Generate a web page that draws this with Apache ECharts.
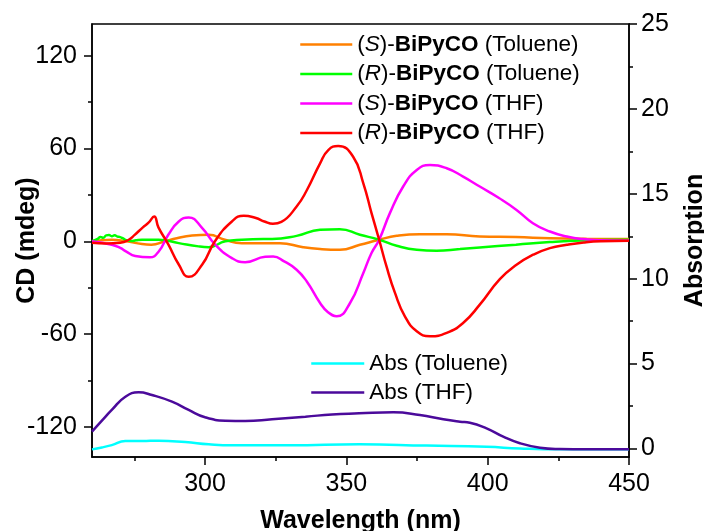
<!DOCTYPE html>
<html>
<head>
<meta charset="utf-8">
<script src="https://cdn.jsdelivr.net/npm/echarts@6/dist/echarts.min.js"></script>
<style>
  html, body { margin: 0; padding: 0; background: #fff; }
  #chart { width: 704px; height: 531px; }
</style>
</head>
<body>
<div id="chart"></div>
<script>
// CD spectra (mdeg) of both enantiomers in toluene and THF
const waveSTol = [260,267,272,277.7,281,285.8,290,295.4,301.3,307,313,321,326.5,334.7,340.7,347.7,354.8,361.6,367.8,376,385.5,397.2,410,422,435,450];
const cdSTol   = [0,1,0,-1.8,-2.2,0,2,3.7,4.2,1,-1.2,-1.2,-1.2,-3.8,-5,-5.5,-2.3,1,3.5,4.6,4.6,3.1,2.7,2,1.6,1.4];

const waveRTol = [260,262,263,264,265,266,267,268,269,270,271,272.5,274,275.5,277.7,283.6,290.7,297.7,301.3,307.2,313,320.6,323.7,332.4,340.7,347.7,354.8,361.6,367.8,374.9,381.9,390.2,397.2,410,422,433,450];
const cdRTol   = [0,1.5,2.8,2.2,3.8,4.0,3.3,3.9,3.0,2.7,1.8,0.5,0.2,0.6,1,1,-1.2,-3.3,-3.8,0,1,1.4,1.4,3.5,7.4,7.8,4.2,1,-2.9,-5.5,-6.1,-5,-4,-2.2,-0.5,0.5,1];

const waveSTHF = [260,267,270,272,275.3,280.5,283.6,287,290.7,294.2,299,303.6,309.5,314.2,321.3,324.1,328,332.4,336,340.7,343.5,346.6,351.3,356,358.9,361.6,365.4,370.1,374.9,379.6,385.5,391.3,397.2,404,410.2,416,422,428,433.7,440,450];
const cdSTHF   = [0,-2.2,-4.3,-6.5,-9.5,-10.4,-6.6,4.2,12.8,15.4,8.5,-2.2,-10.9,-13.5,-10,-9.8,-13,-18.4,-26,-39.9,-45.9,-48.5,-39.9,-20.5,-7.6,1,18.2,35.4,46.1,49.3,47.2,41.8,35.4,28,20.3,11.7,6.3,3.1,1.4,0.7,0.5];

const waveRTHF = [260,265,270,273,275,278,280,282,283.5,287,290.7,294.2,299,303.5,309.5,313.7,318,321,324,327,332.4,336,340.7,343.6,347.1,352.4,356,358.9,361.6,364.2,367.2,370.7,374.9,379.6,385.5,391.3,397.2,404.3,410.2,416.1,422,428,434,440,450];
const cdRTHF   = [-1,-1.5,-1,1,4,9,12,16,9,-2,-15,-23,-15,0,12.8,16.5,15,12.8,11.3,12.5,22.5,33,50.4,59,61.6,54.7,37.5,18.2,1,-16.3,-33.4,-48.5,-58.2,-61.4,-59.2,-52.8,-41,-24.5,-15.2,-8.7,-4.4,-2.3,-0.8,0,0.3];

// UV-vis absorption
const waveAbsTol = [260,263.5,267,271.8,277.7,283.6,293,301.3,309.5,330,354.5,378.4,399.6,411.4,425,450];
const absTol     = [-0.05,0.06,0.2,0.44,0.44,0.46,0.38,0.25,0.19,0.19,0.25,0.17,0.1,0.0,-0.05,-0.05];

const waveAbsTHF = [260,263.5,267,271.8,276.5,281.2,288.3,294.2,300,307.2,314.2,323.7,335.5,344.9,354.5,366.6,376,384.3,390.2,393.7,399.6,405.5,411.4,418.5,425.5,435,450];
const absTHF     = [0.99,1.64,2.27,3.05,3.31,3.15,2.76,2.27,1.84,1.64,1.62,1.72,1.87,2.01,2.07,2.13,1.97,1.72,1.58,1.52,1.19,0.70,0.31,0.05,-0.03,-0.05,-0.05];

// axis ticks
const xMajorTicks = [300,350,400,450];
const xMinorTicks = [275,325,375,425];
const cdMajorTicks = [-120,-60,0,60,120];
const cdMinorTicks = [-90,-30,30,90];
const absMajorTicks = [0,5,10,15,20,25];
const absMinorTicks = [2.5,7.5,12.5,17.5,22.5];

const FONT = '"Liberation Sans", Arial, sans-serif';
const pairs = (xs, ys) => xs.map((x, i) => [x, ys[i]]);

const legendLabels = {
  'S-Tol': '({i|S})-{b|BiPyCO} (Toluene)',
  'R-Tol': '({i|R})-{b|BiPyCO} (Toluene)',
  'S-THF': '({i|S})-{b|BiPyCO} (THF)',
  'R-THF': '({i|R})-{b|BiPyCO} (THF)',
  'Abs-Tol': 'Abs (Toluene)',
  'Abs-THF': 'Abs (THF)'
};

const axisLineStyle = { color: '#000', width: 1.5 };
const titleStyle = { fontFamily: FONT, fontSize: 25, fontWeight: 'bold', color: '#000' };
const tickLabel = { fontFamily: FONT, fontSize: 25, color: '#000' };

function minorAxis(base, ticks, len) {
  return Object.assign({}, base, {
    axisLine: { show: false, onZero: false },
    axisLabel: { show: false },
    splitLine: { show: false },
    axisTick: { show: true, customValues: ticks, length: len, lineStyle: axisLineStyle },
    name: ''
  });
}

const xBase = { type: 'value', min: 260, max: 450, position: 'bottom' };
const cdBase = { type: 'value', min: -139.5, max: 140.5, position: 'left' };
const absBase = { type: 'value', min: -0.5, max: 25, position: 'right' };

function line(name, xs, ys, color, yAxisIndex) {
  return {
    name, type: 'line', xAxisIndex: 0, yAxisIndex,
    data: pairs(xs, ys), symbol: 'none', smooth: 0.5,
    lineStyle: { color, width: 2.5 }, itemStyle: { color },
    emphasis: { disabled: true }, animation: false
  };
}

const chart = echarts.init(document.getElementById('chart'), null, { renderer: 'canvas' });
chart.setOption({
  animation: false,
  grid: {
    left: 92, right: 75, top: 24, bottom: 74,
    show: true, borderColor: '#000', borderWidth: 1.5,
    containLabel: false, outerBoundsMode: 'none'
  },
  xAxis: [
    Object.assign({}, xBase, {
      name: 'Wavelength (nm)', nameLocation: 'middle', nameGap: 52, nameMoveOverlap: false,
      nameTextStyle: titleStyle,
      axisLine: { show: true, onZero: false, lineStyle: axisLineStyle },
      axisTick: { show: true, customValues: xMajorTicks, length: 8, lineStyle: axisLineStyle },
      axisLabel: Object.assign({ customValues: xMajorTicks, margin: 15 }, tickLabel),
      splitLine: { show: false }
    }),
    minorAxis(xBase, xMinorTicks, 4)
  ],
  yAxis: [
    Object.assign({}, cdBase, {
      name: 'CD (mdeg)', nameLocation: 'middle', nameGap: 52, nameRotate: 90, nameMoveOverlap: false,
      nameTextStyle: titleStyle,
      axisLine: { show: true, onZero: false, lineStyle: axisLineStyle },
      axisTick: { show: true, customValues: cdMajorTicks, length: 8, lineStyle: axisLineStyle },
      axisLabel: Object.assign({ customValues: cdMajorTicks, margin: 15 }, tickLabel),
      splitLine: { show: false }
    }),
    minorAxis(cdBase, cdMinorTicks, 4),
    Object.assign({}, absBase, {
      name: 'Absorption', nameLocation: 'middle', nameGap: 54, nameRotate: 90, nameMoveOverlap: false,
      nameTextStyle: titleStyle,
      axisLine: { show: true, onZero: false, lineStyle: axisLineStyle },
      axisTick: { show: true, customValues: absMajorTicks, length: 8, lineStyle: axisLineStyle },
      axisLabel: Object.assign({ customValues: absMajorTicks, margin: 12 }, tickLabel),
      splitLine: { show: false }
    }),
    minorAxis(absBase, absMinorTicks, 4)
  ],
  legend: [
    {
      data: ['S-Tol', 'R-Tol', 'S-THF', 'R-THF'],
      orient: 'vertical', left: 299, top: 33, padding: 0,
      itemWidth: 52, itemHeight: 14, itemGap: 6.5,
      selectedMode: false,
      itemStyle: { opacity: 0 },
      lineStyle: { width: 2.5 },
      formatter: n => legendLabels[n],
      textStyle: {
        fontFamily: FONT, fontSize: 22.5, color: '#000', lineHeight: 22,
        rich: {
          i: { fontFamily: FONT, fontSize: 22.5, fontStyle: 'italic', color: '#000' },
          b: { fontFamily: FONT, fontSize: 22.5, fontWeight: 'bold', color: '#000' }
        }
      }
    },
    {
      data: ['Abs-Tol', 'Abs-THF'],
      orient: 'vertical', left: 310, top: 352, padding: 0,
      itemWidth: 53, itemHeight: 14, itemGap: 6,
      selectedMode: false,
      itemStyle: { opacity: 0 },
      lineStyle: { width: 2.5 },
      formatter: n => legendLabels[n],
      textStyle: { fontFamily: FONT, fontSize: 22.5, color: '#000', lineHeight: 22 }
    }
  ],
  series: [
    line('S-Tol', waveSTol, cdSTol, '#ff8000', 0),
    line('R-Tol', waveRTol, cdRTol, '#00ff00', 0),
    line('S-THF', waveSTHF, cdSTHF, '#ff00ff', 0),
    line('R-THF', waveRTHF, cdRTHF, '#ff0000', 0),
    line('Abs-Tol', waveAbsTol, absTol, '#00ffff', 2),
    line('Abs-THF', waveAbsTHF, absTHF, '#4b0a9b', 2)
  ]
});
</script>
</body>
</html>
